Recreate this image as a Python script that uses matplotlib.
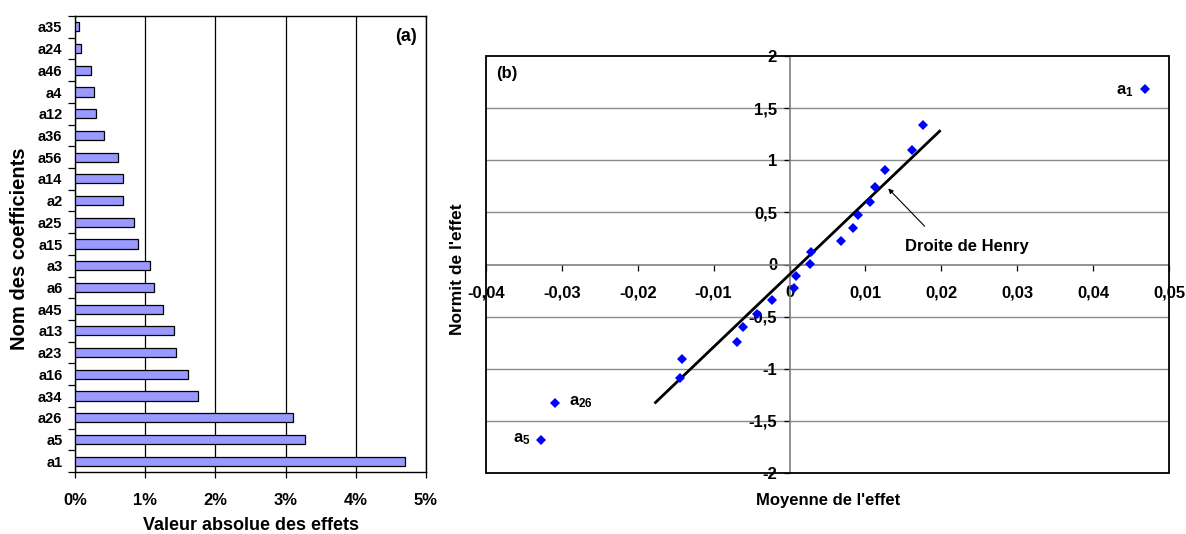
import matplotlib
matplotlib.use("Agg")
import matplotlib.pyplot as plt
from matplotlib.ticker import FuncFormatter, FixedLocator
from matplotlib.patches import Rectangle
import numpy as np

plt.rcParams['font.family'] = ['Liberation Sans', 'DejaVu Sans']
plt.rcParams['font.weight'] = 'bold'
plt.rcParams['mathtext.fontset'] = 'custom'
plt.rcParams['mathtext.rm'] = 'Liberation Sans:bold'
plt.rcParams['mathtext.it'] = 'Liberation Sans:bold'
plt.rcParams['mathtext.bf'] = 'Liberation Sans:bold'

# ---------- data: panel (a) ----------
coef_names = ['a35', 'a24', 'a46', 'a4', 'a12', 'a36', 'a56', 'a14', 'a2', 'a25', 'a15',
              'a3', 'a6', 'a45', 'a13', 'a23', 'a16', 'a34', 'a26', 'a5', 'a1']
abs_effect_pct = [0.057, 0.085, 0.228, 0.276, 0.30, 0.42, 0.618, 0.689, 0.684, 0.836, 0.903,
                  1.064, 1.126, 1.259, 1.41, 1.444, 1.615, 1.757, 3.10, 3.28, 4.70]
pct_ticks = [0, 1, 2, 3, 4, 5]

# ---------- data: panel (b) ----------
effect_mean = [-0.0328, -0.0309, -0.01447, -0.01412, -0.00693, -0.00614, -0.0043, -0.00232,
               0.00061, 0.00088, 0.00268, 0.00289, 0.00675, 0.00833, 0.00899, 0.01061,
               0.01127, 0.01254, 0.01614, 0.01754, 0.0469]
effect_normit = [-1.687, -1.333, -1.089, -0.904, -0.744, -0.604, -0.476, -0.342, -0.227,
                 -0.112, 0.003, 0.118, 0.230, 0.351, 0.476, 0.604, 0.748, 0.911, 1.102,
                 1.335, 1.687]
henry_x = [-0.0178, 0.0199]
henry_y = [-1.333, 1.288]
x_ticks_b = [-0.04, -0.03, -0.02, -0.01, 0, 0.01, 0.02, 0.03, 0.04, 0.05]
y_ticks_b = [-2, -1.5, -1, -0.5, 0, 0.5, 1, 1.5, 2]

W, H = 1186, 534
fig = plt.figure(figsize=(W / 100, H / 100), dpi=100)

def fx(px):
    return px / W

def fy(py):
    return 1 - py / H

# ================= panel (a) =================
axa = fig.add_axes([fx(75), fy(472), (426 - 75) / W, (472 - 16) / H])
ypos = np.arange(len(coef_names))
axa.barh(ypos, abs_effect_pct, height=0.42, color='#9999FF', edgecolor='black',
         linewidth=0.9, zorder=3)
axa.set_ylim(len(coef_names) - 0.5, -0.5)
axa.set_xlim(0, 5)
axa.set_yticks(ypos)
axa.set_yticklabels(coef_names, fontsize=10.5, fontweight='bold')
axa.yaxis.set_minor_locator(FixedLocator(np.arange(-0.5, len(coef_names), 1.0)))
axa.tick_params(axis='y', which='major', length=0, pad=9)
axa.tick_params(axis='y', which='minor', length=5, width=0.9, direction='out')
axa.set_xticks(pct_ticks)
axa.xaxis.set_major_formatter(FuncFormatter(lambda v, p: f'{v:.0f}%'))
axa.tick_params(axis='x', length=4, width=0.9, direction='out', labelsize=12, pad=11)
for lab in axa.get_xticklabels():
    lab.set_fontweight('bold')
axa.grid(axis='x', color='black', linewidth=0.9, zorder=0)
axa.set_axisbelow(True)
for s in axa.spines.values():
    s.set_color('black')
    s.set_linewidth(1.0)
axa.text(0.943, 0.955, '(a)', transform=axa.transAxes, ha='center', va='center',
         fontsize=13, fontweight='bold')
fig.text(fx(251), fy(530), 'Valeur absolue des effets', ha='center', va='baseline',
         fontsize=13, fontweight='bold')
fig.text(fx(25), fy(248.5), 'Nom des coefficients', ha='center', va='baseline',
         rotation=90, rotation_mode='anchor', fontsize=14.5, fontweight='bold')

# ================= panel (b) =================
axb = fig.add_axes([fx(486), fy(473), (1169 - 486) / W, (473 - 56) / H])
axb.set_xlim(-0.04, 0.05)
axb.set_ylim(-2, 2)
for yv in y_ticks_b:
    if yv not in (0, -2, 2):
        axb.axhline(yv, color='#8c8c8c', linewidth=1.0, zorder=0)
axb.spines['left'].set_position(('data', 0))
axb.spines['bottom'].set_position(('data', 0))
axb.spines['left'].set_color('#7f7f7f')
axb.spines['bottom'].set_color('#7f7f7f')
axb.spines['left'].set_linewidth(1.2)
axb.spines['bottom'].set_linewidth(1.2)
axb.spines['top'].set_visible(False)
axb.spines['right'].set_visible(False)
axb.add_patch(Rectangle((0, 0), 1, 1, transform=axb.transAxes, fill=False,
                        edgecolor='black', linewidth=1.3, clip_on=False, zorder=5))
axb.set_xticks(x_ticks_b)
axb.set_yticks(y_ticks_b)
fmt = FuncFormatter(lambda v, p: (f'{v:g}').replace('.', ','))
axb.xaxis.set_major_formatter(fmt)
axb.yaxis.set_major_formatter(fmt)
axb.tick_params(axis='x', length=4, width=0.9, direction='out', labelsize=12, pad=11,
                color='black')
axb.tick_params(axis='y', length=4, width=0.9, direction='out', labelsize=12, pad=5,
                color='black')
for lab in axb.get_xticklabels() + axb.get_yticklabels():
    lab.set_fontweight('bold')

axb.plot(henry_x, henry_y, color='black', linewidth=2.0, zorder=3, solid_capstyle='butt')
axb.plot(effect_mean, effect_normit, linestyle='none', marker='D', markersize=5.6,
         color='#0000FF', markeredgewidth=0, zorder=4)

axb.annotate('', xy=(0.0130, 0.729), xytext=(0.0178, 0.367),
             arrowprops=dict(arrowstyle='-|>', color='black', lw=0.8,
                             mutation_scale=7, shrinkA=0, shrinkB=0))
axb.text(0.0233, 0.17, 'Droite de Henry', ha='center', va='center', fontsize=12,
         fontweight='bold')
axb.text(0.0441, 1.665, r'$a_{1}$', ha='center', va='center', fontsize=12)
axb.text(-0.0291, -1.32, r'$a_{26}$', ha='left', va='center', fontsize=12)
axb.text(-0.0353, -1.675, r'$a_{5}$', ha='center', va='center', fontsize=12)
axb.text(0.031, 0.957, '(b)', transform=axb.transAxes, ha='center', va='center',
         fontsize=12, fontweight='bold')

fig.text(fx(828), fy(505), "Moyenne de l'effet", ha='center', va='baseline',
         fontsize=12, fontweight='bold')
fig.text(fx(461.7), fy(269.5), "Normit de l'effet", ha='center', va='baseline',
         rotation=90, rotation_mode='anchor', fontsize=12.5, fontweight='bold')

fig.savefig('out.png', dpi=100)
